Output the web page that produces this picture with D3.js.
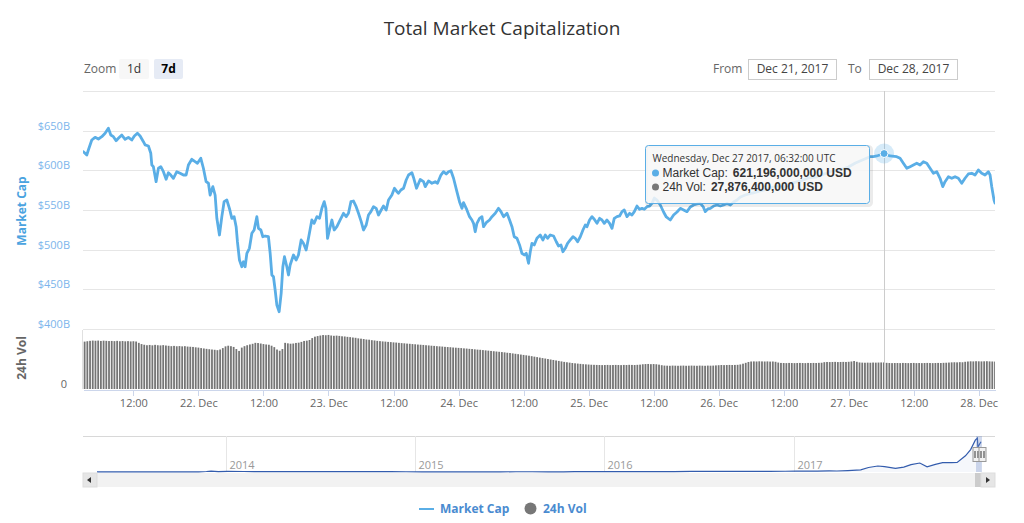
<!DOCTYPE html>
<meta charset="utf-8">
<style>
body { margin: 0; background: #fff; }
svg { font-family: "Open Sans", "DejaVu Sans", sans-serif; }
.grid line { stroke: #e6e6e6; shape-rendering: crispEdges; }
.axis--x path, .axis--x line { stroke: #ccd6eb; shape-rendering: crispEdges; }
.axis--x text { fill: #666; font-size: 11px; font-family: "Open Sans", "DejaVu Sans", sans-serif; }
.ylab { fill: #7cb5ec; font-size: 11px; }
.vol { fill: #757575; }
.tiprow { font-family: "Liberation Sans", Arial, sans-serif; font-size: 12px; fill: #333; }
</style>
<svg width="1024" height="523"></svg>
<script src="https://d3js.org/d3.v7.min.js"></script>
<script>

// market cap, billions USD, hours after 21 Dec 2017 00:00 UTC
var capHours = [2.77,3.40,3.69,4.32,4.93,5.54,6.17,6.78,7.38,7.83,8.31,8.81,9.23,9.86,10.47,11.08,11.70,12.18,12.74,13.24,13.85,14.16,14.77,15.21,15.40,15.69,16.19,16.62,17.06,17.54,18.04,18.46,18.90,19.38,20.01,20.62,21.23,21.73,22.15,22.78,23.39,23.82,24.44,24.92,25.42,25.85,26.16,26.66,27.08,27.40,27.88,28.32,28.74,29.24,29.72,30.17,30.59,30.96,31.20,31.57,32.01,32.31,32.62,32.94,33.41,33.86,34.28,34.78,35.08,35.52,35.89,36.31,36.92,37.24,37.55,37.85,38.16,38.47,38.90,39.27,39.58,39.88,40.32,40.62,40.93,41.54,42.04,42.46,42.96,43.38,43.88,44.31,44.93,45.36,45.86,46.34,46.78,47.21,47.52,47.82,48.18,48.63,49.05,49.55,50.16,50.77,51.27,51.69,52.14,52.62,53.11,53.54,54.04,54.46,54.96,55.38,55.83,56.31,56.81,57.23,57.73,58.15,58.65,59.08,59.70,60.18,60.63,60.92,61.36,61.85,62.34,62.77,63.40,63.69,64.25,64.93,65.54,65.85,66.46,67.09,67.70,68.12,68.75,69.23,69.73,70.15,70.60,71.08,71.70,72.18,72.63,72.92,73.42,74.03,74.47,74.77,75.08,75.40,75.88,76.32,76.62,77.11,77.72,78.17,78.78,79.38,79.83,80.31,80.94,81.42,81.86,82.28,82.78,83.26,83.70,84.13,84.50,84.92,85.24,85.55,85.97,86.47,87.08,87.58,88.01,88.43,88.93,89.54,90.04,90.46,90.90,91.27,91.70,92.12,92.62,93.12,93.54,93.97,94.47,94.96,95.39,95.70,96.18,96.63,97.05,97.55,98.03,98.47,98.90,99.40,99.88,100.32,100.74,101.24,101.72,102.17,102.59,103.09,103.57,104.01,104.44,104.93,105.41,105.86,106.28,106.78,107.26,107.70,108.13,108.62,109.23,109.84,110.34,111.08,111.69,112.32,112.93,113.54,114.16,114.77,115.38,116.01,116.62,117.17,117.54,118.00,118.47,119.08,119.70,120.31,120.92,121.55,122.16,122.77,123.40,124.01,124.93,126.22,127.70,129.17,130.65,132.13,133.60,135.08,136.56,138.03,139.51,140.99,142.46,143.94,145.24,146.53,147.94,148.55,149.18,150.53,151.63,152.87,153.48,154.09,154.72,155.33,155.94,156.56,157.17,157.78,158.41,159.02,159.63,160.25,160.86,161.36,161.78,162.40,163.02,163.63,164.24,164.86,165.47,166.08,166.71,167.32,167.93,168.55,169.16,169.77,170.09,170.40,170.82,171.00];
var capValues = [623.5,619.3,625.6,638.2,641.6,639.5,642.4,646.7,653.0,644.5,642.4,637.4,640.4,644.5,639.1,641.6,638.2,643.3,646.7,643.3,636.1,632.0,630.7,621.5,606.8,604.6,585.7,602.6,604.6,598.3,588.7,597.0,594.1,589.9,598.3,596.3,594.1,594.1,606.7,613.9,610.9,608.9,615.2,602.6,585.7,583.7,568.9,579.4,568.9,539.5,518.5,541.6,560.5,562.6,552.1,539.5,541.6,529.0,510.0,487.0,478.5,484.8,478.5,495.4,501.7,520.6,524.8,541.6,526.9,524.8,516.3,517.2,516.3,495.4,468.1,465.9,449.2,430.3,421.8,445.0,478.5,491.1,478.5,468.1,480.7,493.3,487.0,493.3,512.2,508.0,499.6,514.3,537.4,533.2,541.6,539.5,552.1,560.5,552.1,514.3,524.8,537.4,524.8,529.0,537.4,545.8,541.6,545.8,560.5,561.3,554.2,545.8,535.3,524.8,531.1,543.7,547.9,554.2,552.1,543.7,550.0,555.0,550.0,562.6,568.9,577.4,573.1,571.1,575.2,577.4,587.8,594.1,597.0,591.0,577.4,588.4,585.7,579.4,586.6,583.7,585.7,583.7,594.1,598.3,595.4,598.3,599.5,590.0,573.1,560.5,552.1,559.2,552.1,541.6,537.4,533.2,522.6,533.2,539.5,541.6,529.0,534.0,537.4,541.6,545.8,552.1,547.9,541.6,545.8,537.4,529.0,516.3,514.3,505.9,495.4,493.3,495.4,482.8,497.4,508.0,505.9,514.3,518.5,512.2,518.5,514.3,518.5,517.2,510.0,504.6,505.9,497.4,501.7,508.0,512.2,516.3,514.3,510.0,516.3,524.8,531.1,529.0,537.4,541.6,538.3,533.2,539.5,537.4,533.2,537.4,533.2,526.9,539.5,541.6,542.5,547.9,550.0,541.6,545.8,543.7,547.9,555.0,550.9,552.1,550.9,554.2,555.0,558.4,565.1,562.6,556.3,547.5,541.2,537.4,543.7,547.5,552.1,550.0,547.9,553.8,556.3,557.6,558.4,553.8,547.9,551.3,552.1,555.0,556.3,555.0,556.3,558.2,556.3,560.1,562.6,566.4,568.9,571.4,574.0,576.5,580.3,579.0,584.0,586.6,590.4,591.6,595.4,599.2,600.4,604.2,609.3,613.1,617.2,617.2,618.1,621.2,618.1,617.2,615.2,608.9,602.6,604.6,606.7,608.9,606.7,610.9,608.9,602.6,596.3,598.3,590.0,579.4,585.7,592.0,590.0,592.0,590.0,583.7,590.0,595.4,596.3,594.1,600.4,596.3,594.1,598.3,594.1,579.4,562.6,558.8];

// 24h volume, billions USD, one bar every half hour starting 03:00 on 21 Dec
var volStartHour = 3;
var volStepHours = 0.5;
var volValues = [49.8,50.2,50.6,50.9,50.7,50.9,50.5,50.8,50.6,50.4,
  50.5,50.3,50.6,50.2,50.4,50.1,50.3,50.0,50.2,49.9,
  48.5,47.2,46.5,46.0,46.3,45.9,46.4,46.0,45.8,46.1,
  45.7,45.4,45.0,45.3,44.9,45.1,44.8,45.0,44.6,44.4,
  44.2,43.8,43.5,43.0,42.6,42.2,41.8,41.5,41.2,40.8,
  41.5,43.0,44.8,45.5,45.0,44.2,42.0,40.0,43.5,45.0,
  46.0,46.8,47.5,48.5,48.3,47.8,47.2,46.8,46.5,45.5,
  44.0,41.5,40.2,42.0,48.5,48.0,47.6,47.8,48.4,48.7,
  49.5,50.5,50.8,51.5,53.5,55.0,55.6,56.2,56.7,56.5,
  56.8,56.2,55.9,56.1,55.8,55.4,55.2,54.8,54.5,54.1,
  53.8,53.2,52.9,52.5,52.0,51.8,51.3,51.0,50.6,50.3,
  50.0,49.8,49.5,49.3,49.0,48.8,48.5,48.2,48.0,47.7,
  47.5,47.2,47.0,46.7,46.5,46.3,46.0,45.8,45.5,45.3,
  45.0,44.8,44.6,44.3,44.1,43.9,43.6,43.4,43.2,43.0,
  42.7,42.5,42.2,42.0,41.7,41.4,41.2,40.9,40.6,40.3,
  40.0,39.7,39.4,39.1,38.8,38.5,38.1,37.8,37.4,37.0,
  36.6,36.2,35.8,35.4,35.0,34.5,34.0,33.5,33.0,32.5,
  32.0,31.5,31.0,30.5,30.0,29.5,29.0,28.5,28.1,27.7,
  27.3,27.0,26.7,26.4,26.1,25.9,25.7,25.5,25.4,25.3,
  25.2,25.1,25.2,25.3,25.1,25.2,25.3,25.2,25.1,25.3,
  25.2,25.4,25.3,25.2,25.4,25.6,26.0,26.2,26.3,26.1,
  26.2,26.0,25.6,25.0,24.6,24.5,24.4,24.6,24.5,24.4,
  24.5,24.6,24.4,24.5,24.6,24.5,24.4,24.6,24.5,24.4,
  24.6,24.5,24.6,24.8,25.0,25.2,25.1,25.2,25.3,25.2,
  25.3,25.4,25.8,26.6,27.5,28.4,28.9,29.0,28.9,29.1,
  29.0,28.9,29.0,28.8,28.9,28.6,27.8,27.4,27.3,27.2,
  27.4,27.3,27.2,27.3,27.4,27.3,27.2,27.4,27.3,27.4,
  27.3,27.5,27.6,28.2,28.4,28.3,28.4,28.5,28.3,28.4,
  28.5,28.4,28.6,28.9,29.4,28.6,27.9,27.7,27.6,27.7,
  27.6,27.8,27.7,27.8,27.9,27.9,27.5,27.3,27.2,27.3,
  27.3,27.2,27.4,27.3,27.2,27.3,27.4,27.2,27.3,27.2,
  27.3,27.4,27.3,27.2,27.3,27.4,27.3,27.5,27.6,27.8,
  28.0,28.1,28.0,28.2,28.1,28.6,28.9,29.1,29.0,29.2,
  29.1,29.0,29.1,29.2,29.0,28.9,28.8];

var capTicks = [400, 450, 500, 550, 600, 650];
var capTickLabels = ["$400B", "$450B", "$500B", "$550B", "$600B", "$650B"];

// navigator: whole history, billions USD
var navDates = ["2013-04-28","2013-05-15","2013-06-15","2013-07-15","2013-08-15","2013-09-15","2013-10-15","2013-11-10","2013-11-25","2013-12-04","2013-12-18",
  "2014-01-05","2014-02-05","2014-02-25","2014-03-15","2014-04-10","2014-05-15","2014-06-05","2014-07-15","2014-08-15","2014-09-15","2014-10-15","2014-11-15","2014-12-15",
  "2015-01-15","2015-02-15","2015-03-15","2015-04-15","2015-05-15","2015-06-15","2015-07-15","2015-08-15","2015-09-15","2015-10-15","2015-11-05","2015-12-15",
  "2016-01-15","2016-02-15","2016-03-15","2016-04-15","2016-05-15","2016-06-17","2016-07-15","2016-08-15","2016-09-15","2016-10-15","2016-11-15","2016-12-15",
  "2017-01-05","2017-02-15","2017-03-10","2017-03-25","2017-04-15","2017-05-10","2017-05-25","2017-06-12","2017-06-25","2017-07-16","2017-08-01","2017-08-15",
  "2017-09-01","2017-09-15","2017-10-01","2017-10-15","2017-11-01","2017-11-12","2017-11-28","2017-12-08","2017-12-17","2017-12-21","2017-12-22","2017-12-28"];
var navValues = [1.6,1.3,1.2,1.0,1.3,1.6,1.9,4.0,9.5,15.0,6.5,
  10.5,10.0,7.0,8.2,5.6,6.2,9.0,8.5,6.8,6.5,5.6,5.6,4.8,
  3.1,3.6,4.0,3.6,3.6,3.8,4.7,4.6,3.8,4.1,6.6,7.0,
  6.8,6.9,8.4,8.1,8.4,13.0,11.9,10.3,10.8,11.8,12.4,14.3,
  17.5,17.4,22.5,19.5,26.5,40.0,86.0,115.0,103.0,68.0,94.0,140.0,
  172.0,100.0,146.0,178.0,180.0,185.0,310.0,430.0,610.0,650.0,480.0,580.0];
var navYears = ["2014", "2015", "2016", "2017"];

// hovered point shown in the tooltip
var hoverHour = 150.53;
var hoverCap = 621.196;
var hoverLabel = "Wednesday, Dec 27 2017, 06:32:00 UTC";
var hoverRows = [
    {name: "Market Cap:", value: "621,196,000,000 USD", color: "#5aaee6"},
    {name: "24h Vol:", value: "27,876,400,000 USD", color: "#777"}
];

var lineColor = "#5aaee6";
var svg = d3.select("svg");
var base = Date.UTC(2017, 11, 21);
function at(h) { return new Date(base + h * 3600e3); }

var left = 83, right = 995;
var x = d3.scaleUtc().domain([at(2.7), at(171.0)]).range([left, right]);
var y = d3.scaleLinear().domain([400, 700]).range([329, 91]);
var yVol = d3.scaleLinear().domain([0, 62]).range([389, 330]);

// title
svg.append("text")
    .attr("x", 502).attr("y", 35)
    .attr("text-anchor", "middle")
    .attr("fill", "#333")
    .style("font-size", "19px")
    .text("Total Market Capitalization");

// range selector
svg.append("text").attr("x", 84).attr("y", 73).attr("fill", "#666").style("font-size", "12px").text("Zoom");
svg.append("rect").attr("x", 119).attr("y", 59).attr("width", 30).attr("height", 20).attr("rx", 2).attr("fill", "#f7f7f7");
svg.append("text").attr("x", 134).attr("y", 73).attr("text-anchor", "middle").attr("fill", "#333").style("font-size", "12px").text("1d");
svg.append("rect").attr("x", 154).attr("y", 59).attr("width", 29).attr("height", 20).attr("rx", 2).attr("fill", "#e6ebf5");
svg.append("text").attr("x", 168.5).attr("y", 73).attr("text-anchor", "middle").attr("fill", "#000").style("font-size", "12px").style("font-weight", "bold").text("7d");

svg.append("text").attr("x", 713).attr("y", 73).attr("fill", "#666").style("font-size", "12px").text("From");
svg.append("rect").attr("x", 748.5).attr("y", 59.5).attr("width", 88).attr("height", 20).attr("fill", "none").attr("stroke", "#ccc");
svg.append("text").attr("x", 792.5).attr("y", 73).attr("text-anchor", "middle").attr("fill", "#444").style("font-size", "12px").text("Dec 21, 2017");
svg.append("text").attr("x", 848).attr("y", 73).attr("fill", "#666").style("font-size", "12px").text("To");
svg.append("rect").attr("x", 869.5).attr("y", 59.5).attr("width", 88).attr("height", 20).attr("fill", "none").attr("stroke", "#ccc");
svg.append("text").attr("x", 913.5).attr("y", 73).attr("text-anchor", "middle").attr("fill", "#444").style("font-size", "12px").text("Dec 28, 2017");

// grid for market cap pane (top line is the unlabeled 700 level)
var grid = svg.append("g").attr("class", "grid");
grid.selectAll("line")
    .data(capTicks.concat([700]))
    .enter().append("line")
    .attr("x1", left).attr("x2", right)
    .attr("y1", function(d) { return Math.round(y(d)) + 0.5; })
    .attr("y2", function(d) { return Math.round(y(d)) + 0.5; });

svg.selectAll(".ylab")
    .data(capTicks)
    .enter().append("text")
    .attr("class", "ylab")
    .attr("x", 70)
    .attr("y", function(d) { return y(d) - 1; })
    .attr("text-anchor", "end")
    .text(function(d, i) { return capTickLabels[i]; });

svg.append("text")
    .attr("transform", "translate(26,211) rotate(-90)")
    .attr("text-anchor", "middle")
    .attr("fill", "#4aa3e0")
    .style("font-size", "12px")
    .style("font-weight", "bold")
    .text("Market Cap");

// volume pane
svg.append("line").attr("x1", 82.5).attr("x2", 82.5).attr("y1", 330).attr("y2", 389).attr("stroke", "#e0e0e0");
svg.append("text")
    .attr("transform", "translate(26,358) rotate(-90)")
    .attr("text-anchor", "middle")
    .attr("fill", "#666")
    .style("font-size", "12px")
    .style("font-weight", "bold")
    .text("24h Vol");
svg.append("text").attr("x", 67).attr("y", 388).attr("text-anchor", "end").attr("fill", "#666").style("font-size", "11px").text("0");

svg.append("clipPath").attr("id", "plotclip")
    .append("rect").attr("x", left).attr("y", 80).attr("width", right - left).attr("height", 320);

var step = x(at(volStepHours)) - x(at(0));
svg.append("g").attr("clip-path", "url(#plotclip)")
    .selectAll(".vol")
    .data(volValues)
    .enter().append("rect")
    .attr("class", "vol")
    .attr("x", function(d, i) { return x(at(volStartHour + i * volStepHours)) - step * 0.33; })
    .attr("width", step * 0.66)
    .attr("y", function(d) { return yVol(d); })
    .attr("height", function(d) { return yVol(0) - yVol(d); });

// x axis under the volume pane
svg.append("g")
    .attr("class", "axis axis--x")
    .attr("transform", "translate(0,389.5)")
    .call(d3.axisBottom(x)
        .tickValues(d3.utcHour.every(12).range(at(3), at(171.01)))
        .tickSize(6).tickSizeOuter(0).tickPadding(4)
        .tickFormat(function(d) {
            return d.getUTCHours() === 0 ? d3.utcFormat("%-d. %b")(d) : d3.utcFormat("%H:%M")(d);
        }));

// market cap line
var capData = d3.zip(capHours, capValues);
var line = d3.line()
    .x(function(d) { return x(at(d[0])); })
    .y(function(d) { return y(d[1]); });

// crosshair
var hx = Math.round(x(at(hoverHour))) + 0.5;
svg.append("line").attr("x1", hx).attr("x2", hx).attr("y1", 91).attr("y2", 389).attr("stroke", "#ccc");

svg.append("path")
    .datum(capData)
    .attr("clip-path", "url(#plotclip)")
    .attr("fill", "none")
    .attr("stroke", lineColor)
    .attr("stroke-width", 2.8)
    .attr("stroke-linejoin", "round")
    .attr("stroke-linecap", "round")
    .attr("d", line);

// hover marker
svg.append("circle").attr("cx", x(at(hoverHour))).attr("cy", y(hoverCap)).attr("r", 10).attr("fill", lineColor).attr("fill-opacity", 0.25);
svg.append("circle").attr("cx", x(at(hoverHour))).attr("cy", y(hoverCap)).attr("r", 4).attr("fill", lineColor).attr("stroke", "#fff").attr("stroke-width", 1);

// tooltip
var tip = svg.append("g").attr("transform", "translate(645.5,145.5)");
tip.append("rect").attr("x", 1).attr("y", 1).attr("width", 225).attr("height", 59).attr("rx", 3).attr("fill", "none").attr("stroke", "#000").attr("stroke-opacity", 0.08).attr("stroke-width", 3);
tip.append("rect").attr("width", 224).attr("height", 58).attr("rx", 3)
    .attr("fill", "rgba(247,247,247,0.85)").attr("stroke", lineColor).attr("stroke-width", 1);
tip.append("text").attr("x", 7).attr("y", 16.5).attr("fill", "#333").style("font-size", "10px").text(hoverLabel);
hoverRows.forEach(function(r, i) {
    var ty = 31.5 + i * 14;
    tip.append("circle").attr("cx", 10).attr("cy", ty - 4).attr("r", 3.5).attr("fill", r.color);
    var name = tip.append("text").attr("class", "tiprow").attr("x", 17).attr("y", ty).text(r.name);
    var w = name.node().getComputedTextLength();
    tip.append("text").attr("class", "tiprow").attr("x", 17 + w + 5).attr("y", ty)
        .style("font-weight", "bold").text(r.value);
});

// navigator
var navLeft = 97, navRight = 981, navTop = 436, navBottom = 472;
var parseDay = d3.utcParse("%Y-%m-%d");
var xNav = d3.scaleUtc().domain([parseDay(navDates[0]), parseDay(navDates[navDates.length - 1])]).range([navLeft, navRight]);
var yNav = d3.scaleLinear().domain([0, 690]).range([navBottom, navTop]);
var navData = d3.zip(navDates.map(parseDay), navValues);

svg.append("line").attr("x1", left).attr("x2", right).attr("y1", navTop + 0.5).attr("y2", navTop + 0.5).attr("stroke", "#d8d8d8");
svg.selectAll(".navyear")
    .data(navYears)
    .enter().append("g")
    .each(function(d) {
        var gx = Math.round(xNav(parseDay(d + "-01-01"))) + 0.5;
        d3.select(this).append("line").attr("x1", gx).attr("x2", gx).attr("y1", navTop).attr("y2", navBottom).attr("stroke", "#e6e6e6");
        d3.select(this).append("text").attr("x", gx + 3).attr("y", 469).attr("fill", "#999").style("font-size", "11px").text(d);
    });

svg.append("path")
    .datum(navData)
    .attr("fill", "#335cad").attr("fill-opacity", 0.05)
    .attr("d", d3.area().x(function(d) { return xNav(d[0]); }).y0(navBottom).y1(function(d) { return yNav(d[1]); }));
svg.append("path")
    .datum(navData)
    .attr("fill", "none").attr("stroke", "#335cad").attr("stroke-width", 1.2)
    .attr("d", d3.line().x(function(d) { return xNav(d[0]); }).y(function(d) { return yNav(d[1]); }));

// selected range in navigator
var selL = 976, selR = 982;
svg.append("rect").attr("x", selL).attr("y", navTop).attr("width", selR - selL).attr("height", navBottom - navTop).attr("fill", "rgba(102,133,194,0.3)");
[selL, selR].forEach(function(hxp) {
    var h = svg.append("g").attr("transform", "translate(" + (hxp - 3.5) + ",447)");
    h.append("rect").attr("x", 0.5).attr("y", 0.5).attr("width", 7).attr("height", 14).attr("fill", "#f2f2f2").attr("stroke", "#999");
    h.append("line").attr("x1", 2.5).attr("x2", 2.5).attr("y1", 4).attr("y2", 11).attr("stroke", "#333");
    h.append("line").attr("x1", 5.5).attr("x2", 5.5).attr("y1", 4).attr("y2", 11).attr("stroke", "#333");
});

// scrollbar
svg.append("rect").attr("x", left).attr("y", 473).attr("width", right - left).attr("height", 14).attr("fill", "#f2f2f2");
svg.append("rect").attr("x", left).attr("y", 473).attr("width", 14).attr("height", 14).attr("fill", "#e6e6e6").attr("stroke", "#ddd");
svg.append("path").attr("d", "M91,477 L87,480 L91,483 Z").attr("fill", "#333");
svg.append("rect").attr("x", 975).attr("y", 473).attr("width", 7).attr("height", 14).attr("fill", "#ccc");
svg.append("rect").attr("x", 981).attr("y", 473).attr("width", 14).attr("height", 14).attr("fill", "#e6e6e6").attr("stroke", "#ddd");
svg.append("path").attr("d", "M986,477 L990,480 L986,483 Z").attr("fill", "#333");

// legend
svg.append("line").attr("x1", 419).attr("x2", 434).attr("y1", 509).attr("y2", 509).attr("stroke", lineColor).attr("stroke-width", 2);
svg.append("text").attr("x", 440).attr("y", 513).attr("fill", "#4a8bd0").style("font-size", "12px").style("font-weight", "bold").text("Market Cap");
svg.append("circle").attr("cx", 530.5).attr("cy", 508.5).attr("r", 6).attr("fill", "#777");
svg.append("text").attr("x", 543).attr("y", 513).attr("fill", "#4a8bd0").style("font-size", "12px").style("font-weight", "bold").text("24h Vol");

</script>
